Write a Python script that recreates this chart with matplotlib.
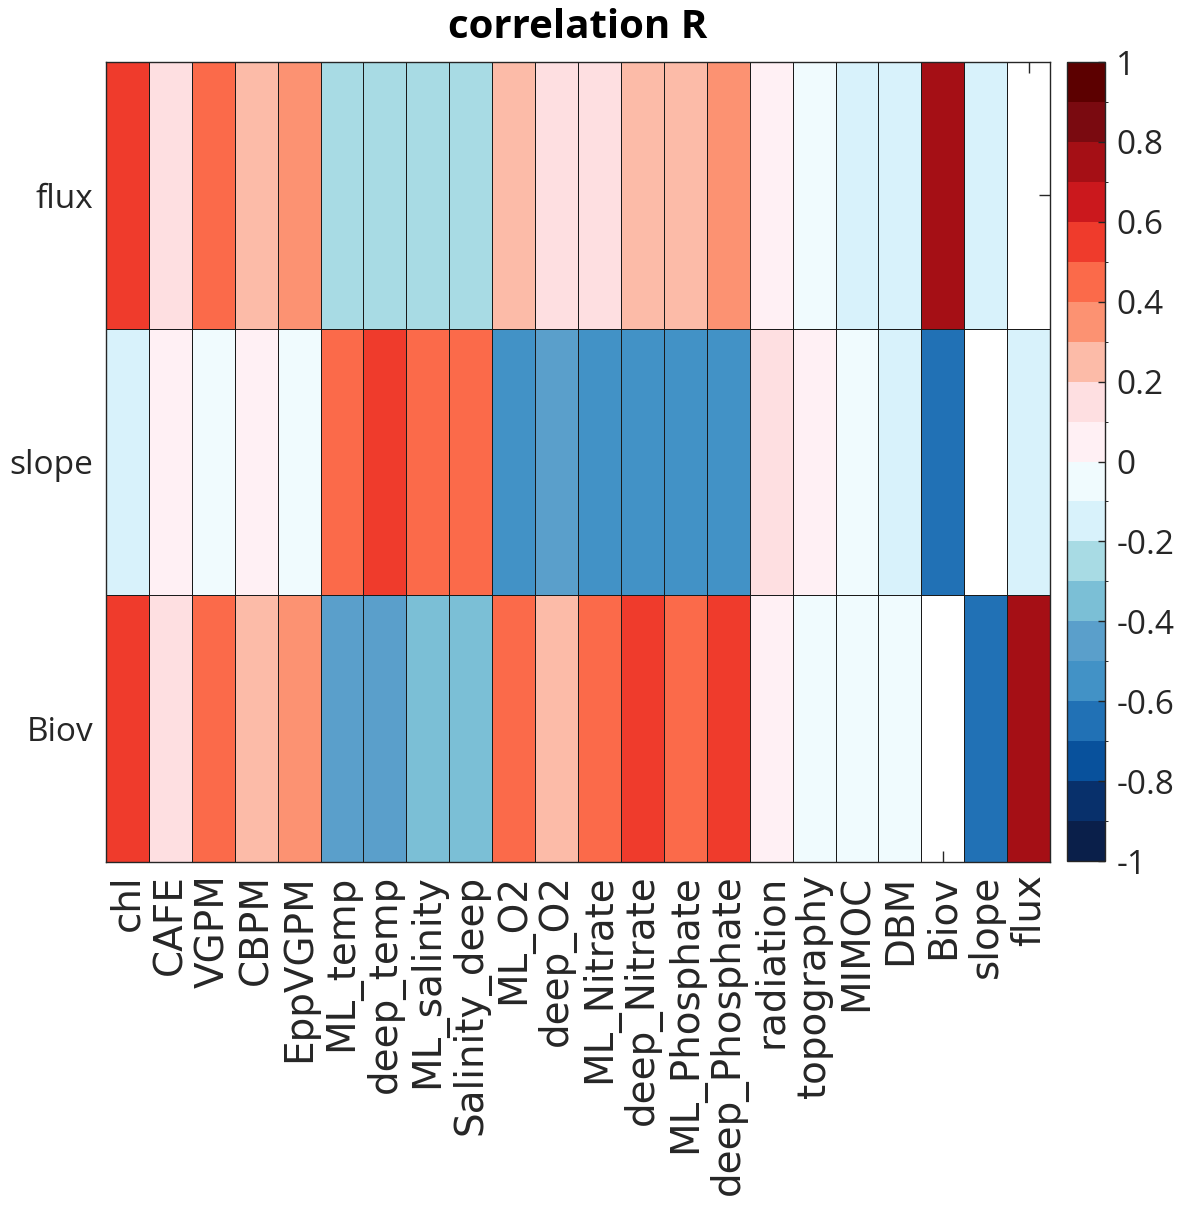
import numpy as np
import matplotlib
matplotlib.use("Agg")
import matplotlib.pyplot as plt
from matplotlib.colors import ListedColormap, BoundaryNorm
from matplotlib.ticker import FuncFormatter

# ── DATA ──────────────────────────────────────────────────────────────────────
# rows = response variables, columns = predictors (self-correlation left blank)
row_labels = ["flux", "slope", "Biov"]
col_labels = [
    "chl", "CAFE", "VGPM", "CBPM", "EppVGPM",
    "ML_temp", "deep_temp", "ML_salinity", "Salinity_deep",
    "ML_O2", "deep_O2", "ML_Nitrate", "deep_Nitrate",
    "ML_Phosphate", "deep_Phosphate", "radiation", "topography",
    "MIMOC", "DBM", "Biov", "slope", "flux",
]

r_flux = [0.55, 0.15, 0.45, 0.25, 0.35,
          -0.25, -0.25, -0.25, -0.25,
          0.25, 0.15, 0.15, 0.25,
          0.25, 0.35, 0.05, -0.05,
          -0.15, -0.15, 0.75, -0.15, np.nan]
r_slope = [-0.15, 0.05, -0.05, 0.05, -0.05,
           0.45, 0.55, 0.45, 0.45,
           -0.55, -0.45, -0.55, -0.55,
           -0.55, -0.55, 0.15, 0.05,
           -0.05, -0.15, -0.65, np.nan, -0.15]
r_biov = [0.55, 0.15, 0.45, 0.25, 0.35,
          -0.45, -0.45, -0.35, -0.35,
          0.45, 0.25, 0.45, 0.55,
          0.45, 0.55, 0.05, -0.05,
          -0.05, -0.05, np.nan, -0.65, 0.75]

cbar_ticks = [-1, -0.8, -0.6, -0.4, -0.2, 0, 0.2, 0.4, 0.6, 0.8, 1]

# 20-step red/blue map (bottom -> top)
level_colors = [
    "#0a1f4a", "#08306b", "#08519c", "#2171b5", "#4292c6",
    "#5a9fcb", "#7bbfd6", "#a8dbe4", "#d8f2fb", "#f0fbfe",
    "#fff0f4", "#fedfe1", "#fcbba8", "#fc9272", "#fb6a4a",
    "#ef3b2c", "#cb181d", "#a50f15", "#7a0a10", "#5c0000",
]

R = np.ma.masked_invalid(np.array([r_flux, r_slope, r_biov]))

cmap = ListedColormap(level_colors)
cmap.set_bad((0, 0, 0, 0))
norm = BoundaryNorm(np.linspace(-1, 1, 21), cmap.N)

TXT = "#262626"

# ── FIGURE ────────────────────────────────────────────────────────────────────
fig = plt.figure(figsize=(11.78, 12.11), dpi=100)
ax = fig.add_axes([0.09, 0.2882, 0.8014, 0.6606])
cax = fig.add_axes([0.9058, 0.289, 0.0323, 0.6598])

mesh = ax.pcolormesh(R, cmap=cmap, norm=norm, edgecolors="#1a1a1a", linewidth=0.6)
ax.set_axisbelow(True)   # ticks sit under the cells, only show through blanks
ax.invert_yaxis()

ax.set_xticks(np.arange(len(col_labels)) + 0.5)
ax.set_yticks(np.arange(len(row_labels)) + 0.5)
ax.set_xticklabels(col_labels, rotation=90, fontsize=28,
                   family="DejaVu Sans", color=TXT)
ax.set_yticklabels(row_labels, fontsize=24, family="Open Sans", color=TXT)
ax.tick_params(direction="in", length=8, width=1, color=TXT,
               top=True, right=True)
ax.tick_params(axis="x", pad=9)
ax.tick_params(axis="y", pad=9)
for sp in ax.spines.values():
    sp.set_color(TXT)
    sp.set_linewidth(1)

ax.set_title("correlation R", fontsize=29, fontweight="bold",
             family="Open Sans", pad=17)

cb = fig.colorbar(mesh, cax=cax, ticks=cbar_ticks)
cb.ax.yaxis.set_major_formatter(FuncFormatter(lambda v, p: f"{v:g}"))
cb.ax.tick_params(direction="in", length=5, width=1, color=TXT,
                  labelsize=24, labelcolor=TXT, pad=8)
for lab in cb.ax.get_yticklabels():
    lab.set_family("Open Sans")
cb.outline.set_edgecolor(TXT)
cb.outline.set_linewidth(1)

plt.savefig("out.png", dpi=100)
plt.close()
